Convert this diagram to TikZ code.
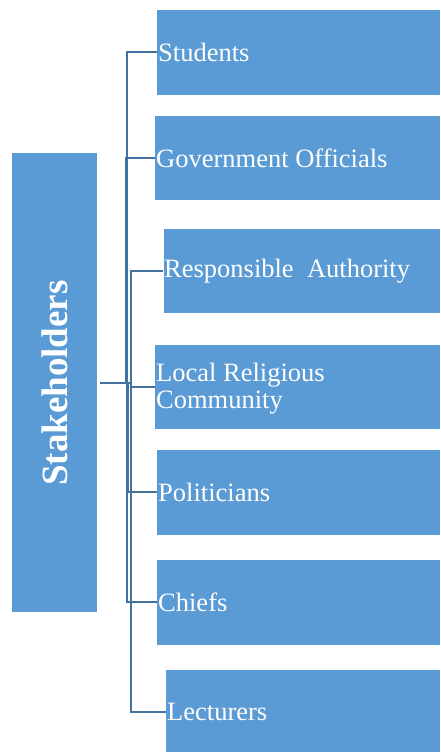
\documentclass[tikz,border=0pt]{standalone}
\usepackage{fontspec}
\setmainfont{Liberation Serif}
\definecolor{boxblue}{HTML}{5B9BD5}
\definecolor{linkblue}{HTML}{41719C}
\begin{document}
\begin{tikzpicture}[x=1pt,y=-1pt,
  box/.style={fill=boxblue,draw=none},
  lbl/.style={anchor=west,text=white,font=\fontsize{26.5}{27}\selectfont,inner sep=1pt,align=left},
  link/.style={draw=linkblue,line width=2.7pt}]
\useasboundingbox (0,0) rectangle (440,752);
% root
\fill[boxblue] (12,153) rectangle (97,612);
\node[rotate=90,text=white,font=\fontsize{37}{40}\selectfont\bfseries] (root) at (55,383) {Stakeholders};
\coordinate (r) at (100,383);
% children boxes
\fill[boxblue] (157,10) rectangle (440,95);
\fill[boxblue] (155,116) rectangle (440,200);
\fill[boxblue] (164,229) rectangle (440,313);
\fill[boxblue] (155,345) rectangle (440,429);
\fill[boxblue] (157,450) rectangle (440,535);
\fill[boxblue] (157,560) rectangle (440,645);
\fill[boxblue] (166,670) rectangle (440,752);
% labels
\node[lbl] (c1) at (157,52) {Students};
\node[lbl] (c2) at (155,158) {Government Officials};
\node[lbl] (c3) at (163,271) {Responsible\ \ Authority};
\node[lbl] (c4) at (155,389) {Local Religious\\Community};
\node[lbl] (c5) at (157,492) {Politicians};
\node[lbl] (c6) at (157,602) {Chiefs};
\node[lbl] (c7) at (166,712) {Lecturers};
% connectors
\draw[link] (r) -| (127,52) -- (c1.west);
\draw[link] (r) -| (126,158) -- (c2.west);
\draw[link] (r) -| (131,271) -- (c3.west);
\draw[link] (r) -- (131,383) |- (155,387);
\draw[link] (r) -| (128,492) -- (c5.west);
\draw[link] (r) -| (127,602) -- (c6.west);
\draw[link] (r) -| (131,712) -- (c7.west);
\end{tikzpicture}
\end{document}
